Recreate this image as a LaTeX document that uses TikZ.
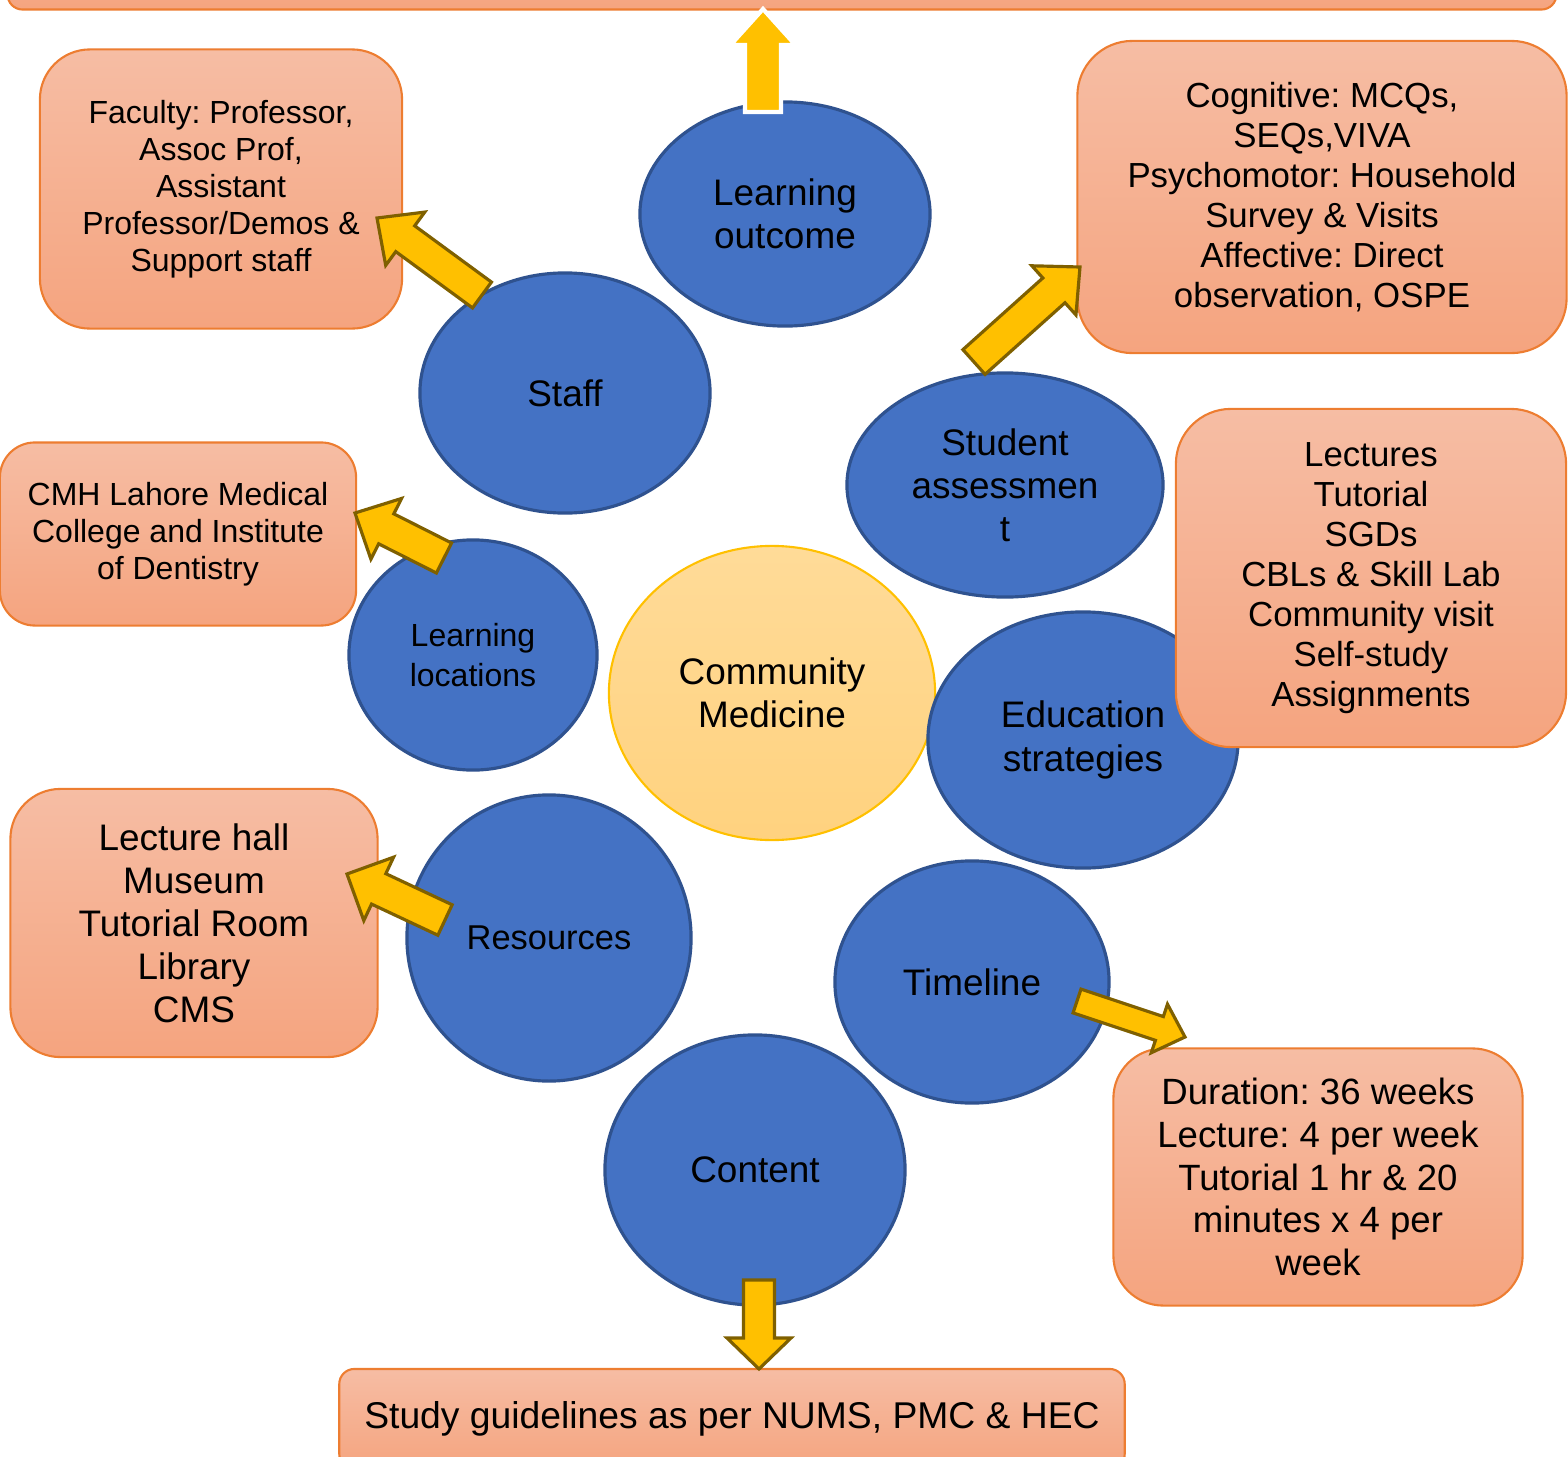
\documentclass[tikz,border=0pt]{standalone}
\usepackage{fontspec}
\setmainfont{Liberation Sans}
\frenchspacing
\usetikzlibrary{shapes.geometric,calc}

\definecolor{topicblue}{HTML}{4472C4}
\definecolor{topicline}{HTML}{2F528F}
\definecolor{boxtop}{HTML}{F6BDA4}
\definecolor{boxbot}{HTML}{F5A47F}
\definecolor{boxline}{HTML}{ED7D31}
\definecolor{coretop}{HTML}{FFDB98}
\definecolor{corebot}{HTML}{FFD27F}
\definecolor{coreline}{HTML}{FFC000}
\definecolor{arrowfill}{HTML}{FFC000}
\definecolor{arrowline}{HTML}{7F6000}

% block arrow: [options]{from}{tip}{half shaft}{half head}{head length}
\newcommand{\blockarrow}[6][]{%
  \coordinate (hb) at ($(#3)!#6!(#2)$);
  \draw[blockarrow,#1] ($(#2)!#4!90:(#3)$) -- ($(hb)!#4!90:(#3)$)
    -- ($(hb)!#5!90:(#3)$) -- (#3) -- ($(hb)!#5!-90:(#3)$)
    -- ($(hb)!#4!-90:(#3)$) -- ($(#2)!#4!-90:(#3)$) -- cycle;}

\begin{document}
\begin{tikzpicture}[x=0.01cm,y=-0.01cm,
  topic/.style={ellipse,draw=topicline,line width=0.9pt,fill=topicblue,inner sep=0pt,align=center,font=\fontsize{10.5}{12.2}\selectfont},
  core/.style={ellipse,draw=coreline,line width=0.6pt,top color=coretop,bottom color=corebot,inner sep=0pt,align=center,font=\fontsize{10.5}{12.2}\selectfont},
  infobox/.style={rectangle,rounded corners=0.5cm,draw=boxline,line width=0.6pt,top color=boxtop,bottom color=boxbot,inner sep=0pt,align=center},
  blockarrow/.style={fill=arrowfill,draw=arrowline,line width=0.9pt,line join=miter}]
\useasboundingbox (0,0) rectangle (1568,1457);

% topics
\node[topic,minimum width=2.9cm,minimum height=2.24cm] (outcome) at (785,214) {Learning\\outcome};
\node[topic,minimum width=2.9cm,minimum height=2.4cm] (staff) at (565,393) {Staff};
\node[topic,minimum width=3.16cm,minimum height=2.24cm] (assess) at (1005,485) {Student\\assessmen\\t};
\node[topic,minimum width=2.48cm,minimum height=2.3cm,font=\fontsize{9.1}{11.4}\selectfont] (locations) at (473,655) {Learning\\locations};
\node[core,minimum width=3.26cm,minimum height=2.94cm] (commed) at (772,693) {Community\\Medicine};
\node[topic,minimum width=3.1cm,minimum height=2.56cm,font=\fontsize{10.5}{12.7}\selectfont] (strategies) at (1083,740) {Education\\strategies};
\node[topic,minimum width=2.84cm,minimum height=2.86cm,font=\fontsize{9.8}{12}\selectfont] (resources) at (549,938) {Resources};
\node[topic,minimum width=2.74cm,minimum height=2.42cm] (timeline) at (972,982) {Timeline};
\node[topic,minimum width=3cm,minimum height=2.7cm] (content) at (755,1170) {Content};

% details
\node[infobox,rounded corners=0.15cm,minimum width=15.48cm,minimum height=0.99cm] (outcomes) at (782,-40) {};
\node[infobox,minimum width=3.62cm,minimum height=2.79cm,font=\fontsize{9.1}{10.5}\selectfont] (faculty) at (221,189) {Faculty: Professor,\\Assoc Prof,\\Assistant\\Professor/Demos \&\\Support staff};
\node[infobox,rounded corners=0.55cm,minimum width=4.89cm,minimum height=3.12cm,font=\fontsize{9.9}{11.4}\selectfont] (tools) at (1322,197) {Cognitive: MCQs,\\SEQs,VIVA\\Psychomotor: Household\\Survey \& Visits\\Affective: Direct\\observation, OSPE};
\node[infobox,rounded corners=0.35cm,minimum width=3.56cm,minimum height=1.83cm,font=\fontsize{9.1}{10.5}\selectfont] (cmh) at (178,534) {CMH Lahore Medical\\College and Institute\\of Dentistry};
\node[infobox,rounded corners=0.55cm,minimum width=3.9cm,minimum height=3.38cm,font=\fontsize{9.9}{11.4}\selectfont] (methods) at (1371,578) {Lectures\\Tutorial\\SGDs\\CBLs \& Skill Lab\\Community visit\\Self-study\\Assignments};
\node[infobox,minimum width=3.67cm,minimum height=2.68cm,font=\fontsize{10.5}{12.2}\selectfont] (venues) at (194,923) {Lecture hall\\Museum\\Tutorial Room\\Library\\CMS};
\node[infobox,minimum width=4.09cm,minimum height=2.57cm,font=\fontsize{10.4}{12.2}\selectfont] (duration) at (1318,1177) {Duration: 36 weeks\\Lecture: 4 per week\\Tutorial 1 hr \& 20\\minutes x 4 per\\week};
\node[infobox,rounded corners=0.15cm,minimum width=7.85cm,minimum height=1cm,font=\fontsize{10.6}{12.2}\selectfont] (guidelines) at (732,1419) {Study guidelines as per NUMS, PMC \& HEC};

% arrow ends
\coordinate (outcome-a) at (763,112);
\coordinate (outcome-b) at (763,9);
\coordinate (staff-a) at (482,295);
\coordinate (staff-b) at (377,218);
\coordinate (assess-a) at (974,362);
\coordinate (assess-b) at (1080,267);
\coordinate (locations-a) at (444,558);
\coordinate (locations-b) at (355,513);
\coordinate (resources-a) at (445,920);
\coordinate (resources-b) at (347,874);
\coordinate (timeline-a) at (1077,1001);
\coordinate (timeline-b) at (1185,1037);
\coordinate (content-a) at (759,1280);
\coordinate (content-b) at (759,1369);

\blockarrow[draw=white,line width=1.2pt]{outcome-a}{outcome-b}{0.18cm}{0.325cm}{0.36cm}
\blockarrow{staff-a}{staff-b}{0.16cm}{0.33cm}{0.35cm}
\blockarrow{assess-a}{assess-b}{0.166cm}{0.33cm}{0.35cm}
\blockarrow{locations-a}{locations-b}{0.168cm}{0.34cm}{0.35cm}
\blockarrow{resources-a}{resources-b}{0.168cm}{0.35cm}{0.35cm}
\blockarrow{timeline-a}{timeline-b}{0.125cm}{0.256cm}{0.27cm}
\blockarrow{content-a}{content-b}{0.155cm}{0.32cm}{0.31cm}
\end{tikzpicture}
\end{document}
